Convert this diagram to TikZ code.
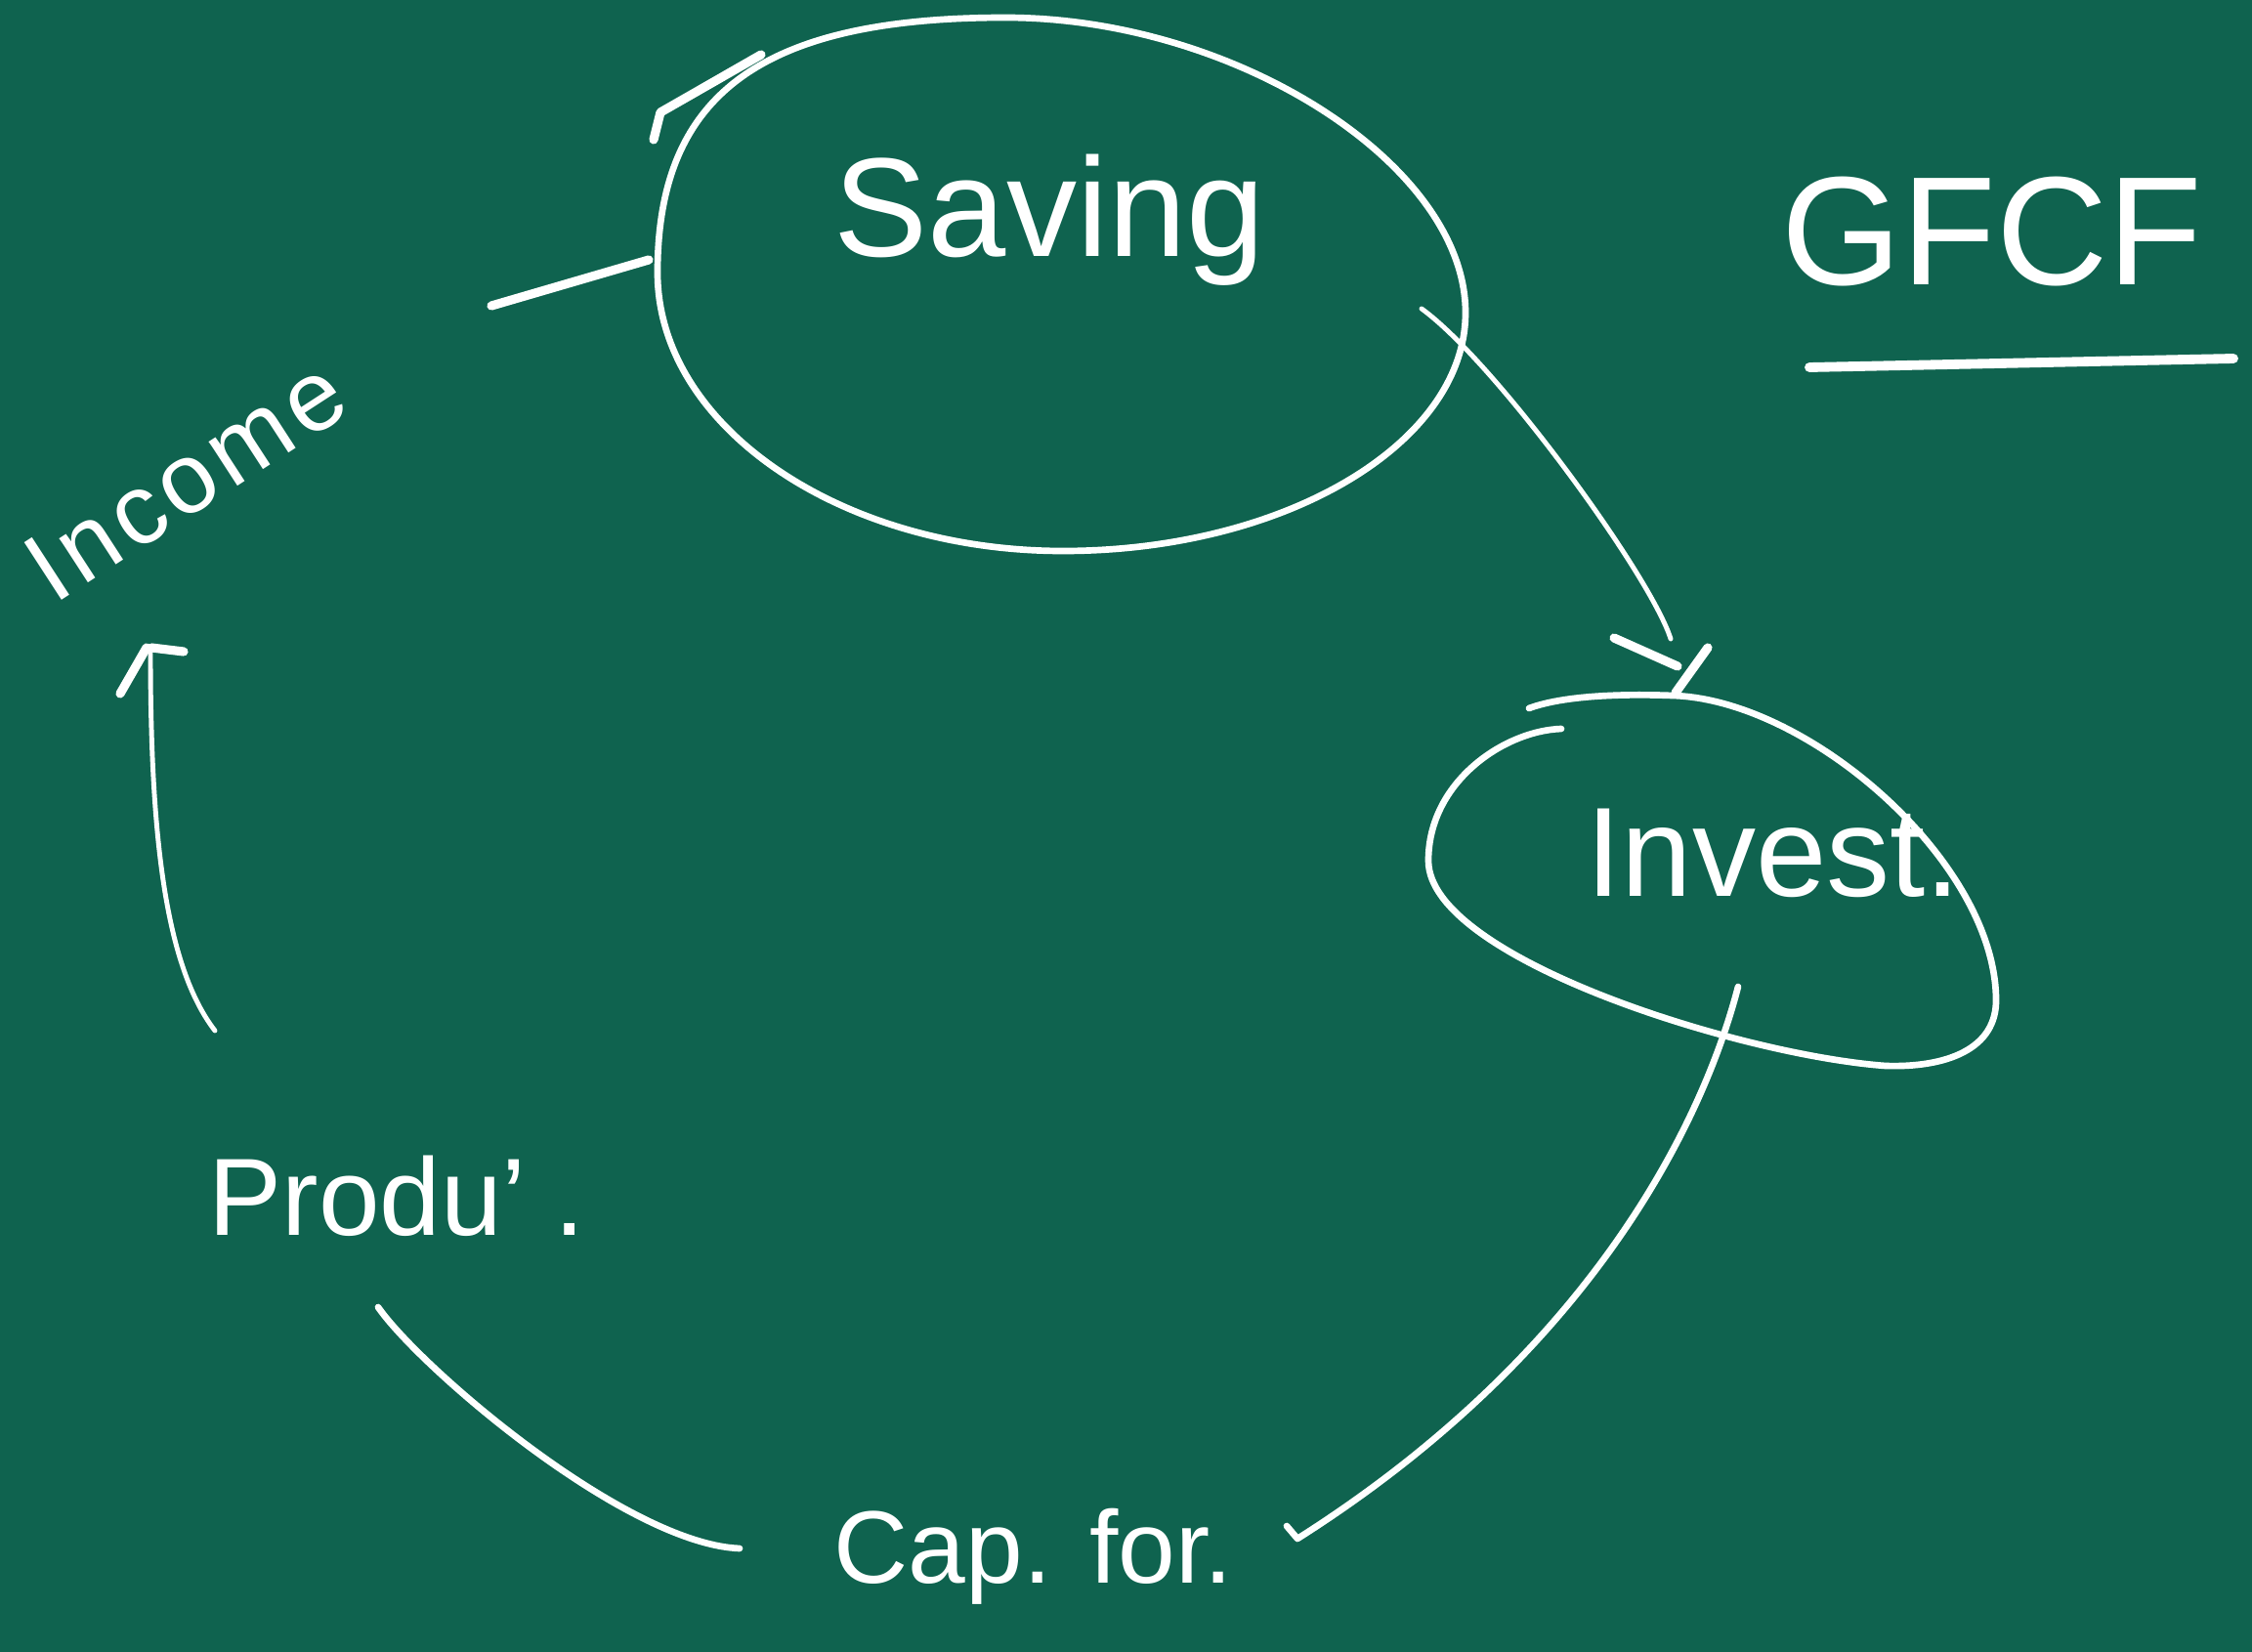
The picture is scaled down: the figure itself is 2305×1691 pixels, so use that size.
\documentclass[tikz,border=0pt]{standalone}
\usepackage{fontspec}
\setmainfont{Liberation Sans}
\definecolor{board}{HTML}{0F634F}
\tikzset{
  chalk/.style={draw=white, line width=1.9pt, line cap=round, line join=round},
  thinchalk/.style={chalk, line width=1.4pt},
  thickchalk/.style={chalk, line width=2.6pt},
  lbl/.style={text=white, inner sep=0pt, anchor=base west}
}
\begin{document}
\begin{tikzpicture}[x=0.01cm,y=-0.01cm]
\fill[board] (0,0) rectangle (2305,1691);
\useasboundingbox (0,0) rectangle (2305,1691);

% texts
\node[lbl, font=\fontsize{41}{41}\selectfont] (saving) at (853,262) {Saving};
\node[lbl, font=\fontsize{45}{45}\selectfont] (gfcf) at (1823,292) {GFCF};
\node[lbl, font=\fontsize{37}{37}\selectfont] (invest) at (1623,917) {Invest.};
\node[lbl, font=\fontsize{32}{32}\selectfont] (produ) at (213,1264) {Produ'\kern0.25em.};
\node[lbl, font=\fontsize{30}{30}\selectfont] (cap) at (853,1620) {Cap. for.};
\node[lbl, rotate=33, font=\fontsize{29}{29}\selectfont\addfontfeature{LetterSpace=6}] (income) at (55,620) {Income};

% coordinates of connector ends
\coordinate (incS) at (503,313);
\coordinate (savL) at (664,266);
\coordinate (savR) at (1455,316);
\coordinate (invT) at (1710,654);
\coordinate (invB) at (1779,1010);
\coordinate (capR) at (1328,1575);
\coordinate (capL) at (757,1585);
\coordinate (proT) at (387,1338);
\coordinate (proU) at (220,1055);
\coordinate (incB) at (154,669);
\coordinate (gfL) at (1852,376);
\coordinate (gfR) at (2286,367);

% Saving ellipse
\draw[chalk] (1029,18) .. controls (1265,18) and (1500,169) .. (1500,320)
  .. controls (1500,454) and (1315,564) .. (1088,564)
  .. controls (860,564) and (673,436) .. (673,279)
  .. controls (673,96) and (780,18) .. cycle;
\draw[thickchalk] (669,143) -- (676,115) -- (779,56);

% Income -- Saving
\draw[thickchalk] (incS) -- (savL);

% Saving -> Invest
\draw[thinchalk] (savR) .. controls (1530,370) and (1690,590) .. (invT);
\draw[thickchalk] (1652,653) -- (1717,682);
\draw[thickchalk] (1748,663) -- (1715,709);

% Invest ellipse
\draw[chalk] (1565,725) .. controls (1600,712) and (1660,710) .. (1712,712)
  .. controls (1850,716) and (2040,880) .. (2043,1021)
  .. controls (2045,1075) and (1990,1093) .. (1930,1091)
  .. controls (1780,1080) and (1462,980) .. (1462,881)
  .. controls (1462,800) and (1540,748) .. (1598,746);

% Invest -- Cap. for.
\draw[chalk] (invB) .. controls (1740,1160) and (1620,1390) .. (capR) -- (1317,1562);

% Cap. for. -- Produ
\draw[chalk] (capL) .. controls (640,1580) and (430,1400) .. (proT);

% Produ -> Income
\draw[thinchalk] (proU) .. controls (170,990) and (154,860) .. (incB);
\draw[thickchalk] (123,710) -- (150,663);
\draw[thickchalk] (155,663) -- (188,667);

% GFCF underline
\draw[thickchalk, line width=2.8pt] (gfL) -- (gfR);
\end{tikzpicture}
\end{document}
